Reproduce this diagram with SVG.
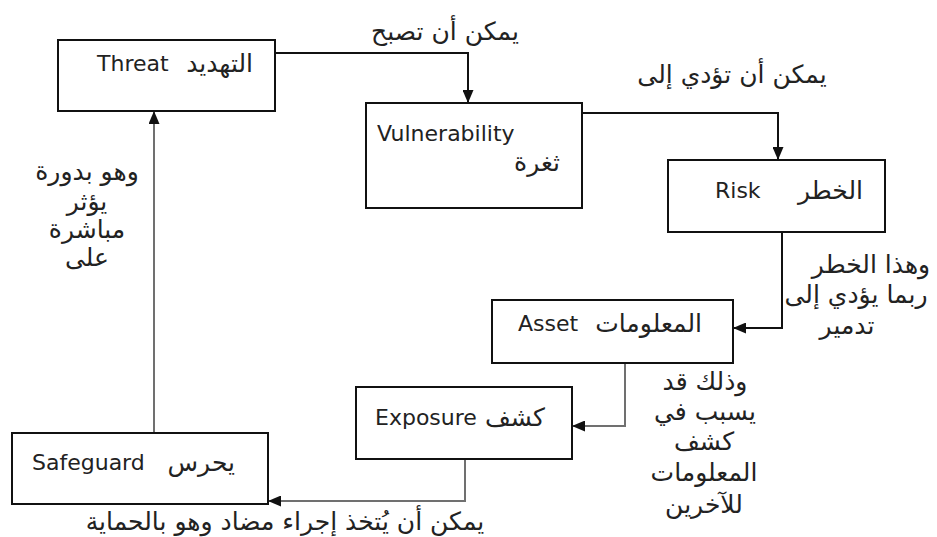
<svg xmlns="http://www.w3.org/2000/svg" width="937" height="537" viewBox="0 0 937 537">
<defs>
<marker id="ah" markerUnits="userSpaceOnUse" markerWidth="13" markerHeight="11" refX="13" refY="5.5" orient="auto">
<path d="M0,0 L13,5.5 L0,11 z" fill="#111"/>
</marker>
<style>
.box{fill:#fff;stroke:#111;stroke-width:2}
.t{font-family:"DejaVu Sans",sans-serif;font-size:22px;fill:#222}
.a{font-family:"DejaVu Sans",sans-serif;font-size:25px;fill:#222}
.c{fill:none;stroke-width:2;marker-end:url(#ah)}
.k{stroke:#111}
.g{stroke:#707070}
</style>
</defs>
<rect width="937" height="537" fill="#fff"/>
<g id="connectors">
<path class="c k" d="M275,53 H468 V103"/>
<path class="c k" d="M582,113 H778 V160"/>
<path class="c k" d="M782,232 V328 H733"/>
<path class="c g" d="M625,363 V426 H572"/>
<path class="c g" d="M465,459 V501 H268"/>
<path class="c g" d="M154,433 V111"/>
</g>
<g id="threat">
<rect class="box" x="58" y="40" width="217" height="71"/>
<text class="t" x="97" y="71">Threat</text>
<text class="a" x="253" y="72" text-anchor="end">التهديد</text>
</g>
<g id="vulnerability">
<rect class="box" x="366" y="103" width="216" height="105"/>
<text class="t" x="377" y="141">Vulnerability</text>
<text class="a" x="560" y="171" text-anchor="end">ثغرة</text>
</g>
<g id="risk">
<rect class="box" x="668" y="160" width="217" height="72"/>
<text class="t" x="715" y="198">Risk</text>
<text class="a" x="863" y="199" text-anchor="end">الخطر</text>
</g>
<g id="asset">
<rect class="box" x="492" y="300" width="241" height="63"/>
<text class="t" x="518" y="331">Asset</text>
<text class="a" x="702" y="332" text-anchor="end">المعلومات</text>
</g>
<g id="exposure">
<rect class="box" x="356" y="387" width="216" height="72"/>
<text class="t" x="375" y="425">Exposure</text>
<text class="a" x="545" y="426" text-anchor="end">كشف</text>
</g>
<g id="safeguard">
<rect class="box" x="12" y="433" width="256" height="71"/>
<text class="t" x="32" y="470">Safeguard</text>
<text class="a" x="235" y="471" text-anchor="end">يحرس</text>
</g>
<g id="labels" class="a" text-anchor="middle">
<text x="445" y="40">يمكن أن تصبح</text>
<text x="732" y="83">يمكن أن تؤدي إلى</text>
<text x="871" y="273">وهذا الخطر</text>
<text x="856" y="303">ربما يؤدي إلى</text>
<text x="847" y="334">تدمير</text>
<text x="705" y="390">وذلك قد</text>
<text x="705" y="420">يسبب في</text>
<text x="704" y="450">كشف</text>
<text x="704" y="481">المعلومات</text>
<text x="704" y="513">للآخرين</text>
<text x="285" y="530">يمكن أن  يُتخذ إجراء مضاد وهو بالحماية</text>
<text x="87" y="180">وهو بدورة</text>
<text x="87" y="210">يؤثر</text>
<text x="87" y="238">مباشرة</text>
<text x="87" y="266">على</text>
</g>
</svg>
